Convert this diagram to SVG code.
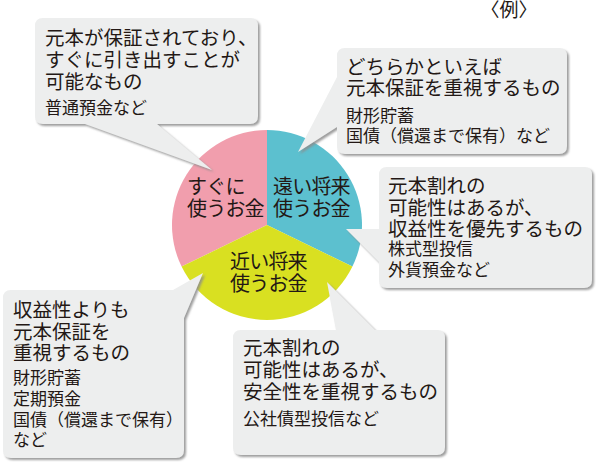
<svg xmlns="http://www.w3.org/2000/svg" width="596" height="462" viewBox="0 0 596 462">
<defs>
<filter id="sh" x="-10%" y="-10%" width="125%" height="125%">
<feDropShadow dx="2" dy="2" stdDeviation="1.3" flood-color="#8c8c8c" flood-opacity="0.85"/>
</filter>
<style>
text{font-family:"Liberation Sans","Noto Sans CJK JP",sans-serif;fill:#231815;}
.m{font-size:19.5px;}
.s{font-size:17px;}
.p{font-size:20px;letter-spacing:-0.8px;}
.box{fill:#edeeee;filter:url(#sh);}
</style>
</defs>
<rect width="596" height="462" fill="#ffffff"/>
<text x="509" y="17" font-size="19" text-anchor="middle">〈例〉</text>
<g id="pie">
<path d="M267,225 L267,130 A95,95 0 0 0 181.6,266.6 Z" fill="#f19ead"/>
<path d="M267,225 L267,130 A95,95 0 0 1 352.4,266.6 Z" fill="#5cc0cf"/>
<path d="M267,225 L352.4,266.6 A95,95 0 0 1 181.6,266.6 Z" fill="#d9e021"/>
<g id="slice-pink"><text class="p" x="187" y="194">すぐに</text><text class="p" x="187" y="216">使うお金</text></g>
<g id="slice-blue"><text class="p" x="273" y="194">遠い将来</text><text class="p" x="273" y="216">使うお金</text></g>
<g id="slice-yellow"><text class="p" x="230" y="269">近い将来</text><text class="p" x="230" y="291">使うお金</text></g>
</g>
<g id="connectors"></g>
<g id="box1">
<path class="box" d="M43,18 H250 Q258,18 258,26 V116 Q258,124 250,124 H157 L212,170 L85,124 H43 Q35,124 35,116 V26 Q35,18 43,18 Z"/>
<text class="m" x="45" y="45">元本が保証されており、</text>
<text class="m" x="45" y="67">すぐに引き出すことが</text>
<text class="m" x="45" y="88.5">可能なもの</text>
<text class="s" x="45" y="113.5">普通預金など</text>
</g>
<g id="box2">
<path class="box" d="M345,48 H559 Q567,48 567,56 V146 Q567,154 559,154 H345 Q337,154 337,146 V127 L298,152 L337,77 V56 Q337,48 345,48 Z"/>
<text class="m" x="346" y="74">どちらかといえば</text>
<text class="m" x="346" y="95">元本保証を重視するもの</text>
<text class="s" x="346" y="122">財形貯蓄</text>
<text class="s" x="346" y="141.5">国債（償還まで保有）など</text>
</g>
<g id="box3">
<path class="box" d="M387,167 H584 Q592,167 592,175 V280 Q592,288 584,288 H387 Q379,288 379,280 V262 L346,229 L379,229 V175 Q379,167 387,167 Z"/>
<text class="m" x="388" y="193">元本割れの</text>
<text class="m" x="388" y="214.5">可能性はあるが、</text>
<text class="m" x="388" y="236">収益性を優先するもの</text>
<text class="s" x="388" y="255">株式型投信</text>
<text class="s" x="388" y="276">外貨預金など</text>
</g>
<g id="box4">
<path class="box" d="M11,290 H173 L203,273 L184,318 V450 Q184,458 176,458 H11 Q3,458 3,450 V298 Q3,290 11,290 Z"/>
<text class="m" x="13" y="317">収益性よりも</text>
<text class="m" x="13" y="339">元本保証を</text>
<text class="m" x="13" y="360">重視するもの</text>
<text class="s" x="13" y="384">財形貯蓄</text>
<text class="s" x="13" y="405">定期預金</text>
<text class="s" x="13" y="426">国債（償還まで保有）</text>
<text class="s" x="13" y="446">など</text>
</g>
<g id="box5">
<path class="box" d="M241,330 H336 L327,282 L375,330 H437 Q445,330 445,338 V447 Q445,455 437,455 H241 Q233,455 233,447 V338 Q233,330 241,330 Z"/>
<text class="m" x="243" y="355">元本割れの</text>
<text class="m" x="243" y="377">可能性はあるが、</text>
<text class="m" x="243" y="398.5">安全性を重視するもの</text>
<text class="s" x="243" y="425">公社債型投信など</text>
</g>
</svg>
